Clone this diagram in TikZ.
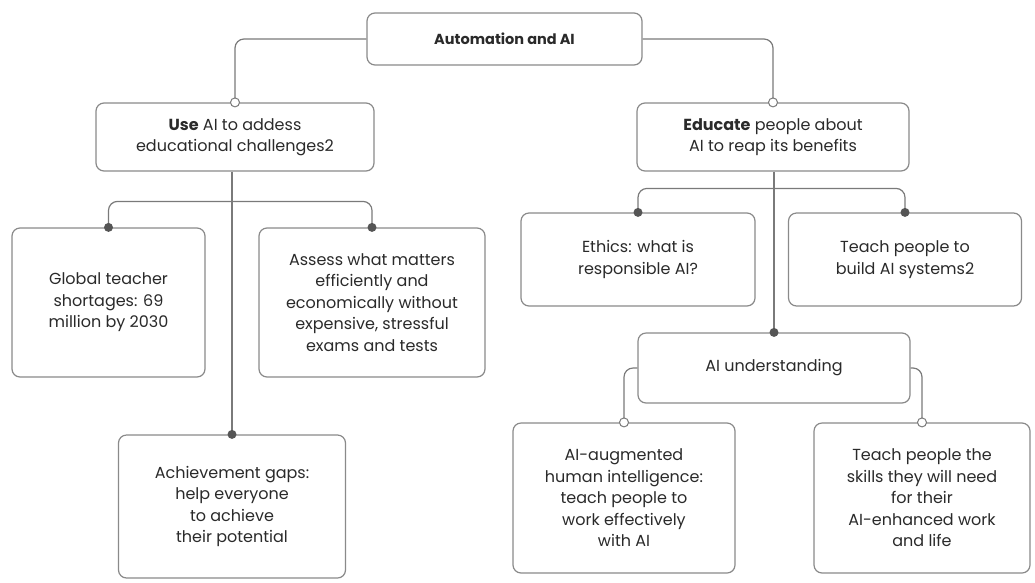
\documentclass[tikz,border=0pt]{standalone}
\usepackage{fontspec}
\setmainfont{Poppins}
\usepackage{xcolor}
\definecolor{boxline}{HTML}{8A8A8A}
\definecolor{linkline}{HTML}{7A7A7A}
\definecolor{textmain}{HTML}{2A2A2A}
\definecolor{dotdark}{HTML}{555555}
\usetikzlibrary{positioning, calc}

\begin{document}
\begin{tikzpicture}[
        x=1pt, y=1pt,
        font=\fontsize{16}{21.5}\selectfont,
        box/.style={
            rectangle,
            rounded corners=8pt,
            draw=boxline,
            line width=1.2pt,
            fill=white,
            text=textmain,
            align=center,
            inner sep=2pt
        },
        link/.style={
            draw=linkline,
            line width=1.2pt,
            rounded corners=9pt
        },
        solid dot/.style={fill=dotdark},
        open dot/.style={fill=white, draw=linkline, line width=1pt}
    ]

    \useasboundingbox (0,0) rectangle (1035,-582);

    % Root
    \node[box, minimum width=275pt, minimum height=52pt, font=\fontsize{14.5}{20}\selectfont] (root) at (504.5,-39) {\textbf{Automation and AI}};

    % Two main branches
    \node[box, minimum width=278pt, minimum height=68pt] (use) at (235,-137) {\textbf{Use} AI to addess\\educational challenges2};
    \node[box, minimum width=272pt, minimum height=68pt] (educate) at (773,-137) {\textbf{Educate} people about\\AI to reap its benefits};

    % Left side
    \node[box, minimum width=193pt, minimum height=149pt] (global) at (108.5,-302.5) {Global teacher\\shortages: 69\\million by 2030};
    \node[box, minimum width=226pt, minimum height=149pt] (assess) at (372,-302.5) {Assess what matters\\efficiently and\\economically without\\expensive, stressful\\exams and tests};
    \node[box, minimum width=227pt, minimum height=143pt] (achieve) at (232,-506.5) {Achievement gaps:\\help everyone\\to achieve\\their potential};

    % Right side
    \node[box, minimum width=234pt, minimum height=93pt] (ethics) at (638,-259.5) {Ethics: what is\\responsible AI?};
    \node[box, minimum width=233pt, minimum height=93pt] (teach) at (905,-259.5) {Teach people to\\build AI systems2};
    \node[box, minimum width=272pt, minimum height=70pt] (understand) at (774,-368) {AI understanding};
    \node[box, minimum width=222pt, minimum height=150pt] (augment) at (624,-498) {AI-augmented\\human intelligence:\\teach people to\\work effectively\\with AI};
    \node[box, minimum width=216pt, minimum height=150pt] (skills) at (922,-498) {Teach people the\\skills they will need\\for their\\AI-enhanced work\\and life};

    % Connectors
    \draw[link] (root.west) -| (use.north);
    \draw[link] (root.east) -| (educate.north);
    \draw[link] (achieve.north |- use.south) -- (achieve.north);
    \draw[link] (global.north) |- ($(assess.north)+(0,26)$) -- (assess.north);
    \draw[link] (understand.north |- educate.south) -- (understand.north);
    \draw[link] (ethics.north) |- ($(teach.north)+(0,24)$) -- (teach.north);
    \draw[link] (understand.west) -| (augment.north);
    \draw[link] (understand.east) -| (skills.north);

    % Dots
    \foreach \n in {use, educate, augment, skills}
        \draw[open dot] (\n.north) circle (4.5pt);
    \foreach \n in {global, assess, achieve, ethics, teach, understand}
        \fill[solid dot] (\n.north) circle (4.5pt);

\end{tikzpicture}
\end{document}
